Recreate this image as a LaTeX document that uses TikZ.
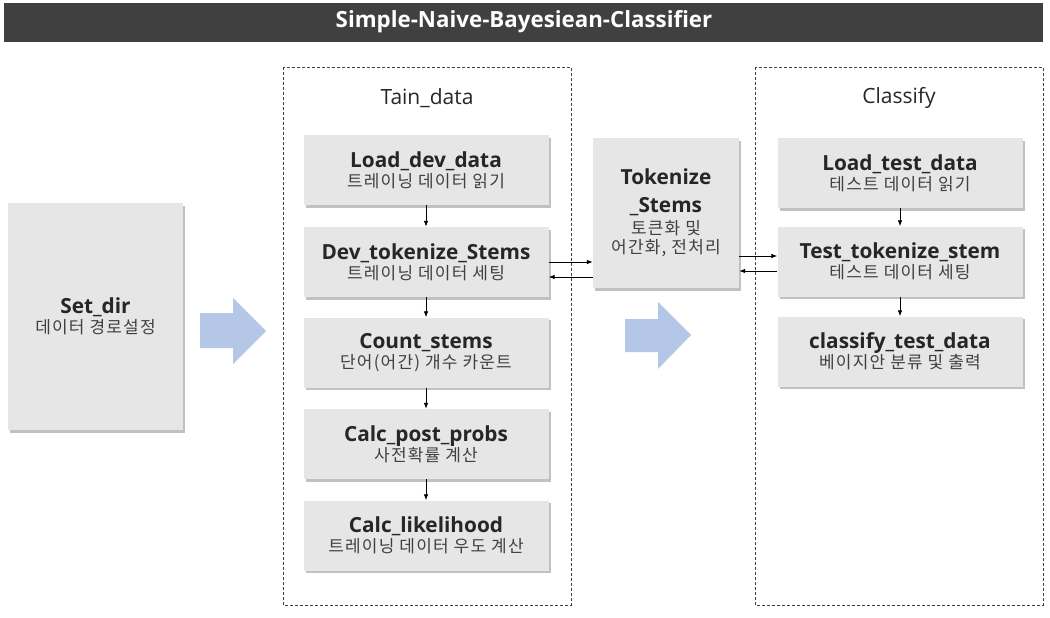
\documentclass[tikz,border=0pt]{standalone}
\usepackage{fontspec}
\setmainfont{Open Sans}
\newfontfamily\kr[LetterSpace=7]{Noto Sans CJK KR}
\usetikzlibrary{shadows,arrows.meta}
\definecolor{barcol}{HTML}{404040}
\definecolor{boxcol}{HTML}{E7E6E6}
\definecolor{bigarrowcol}{HTML}{B4C7E7}
\definecolor{txtcol}{HTML}{262626}
\definecolor{krcol}{HTML}{404040}
\newcommand{\fnbold}[1]{{\bfseries #1}}
\newcommand{\fnkr}[1]{{\kr\fontsize{17}{23}\selectfont\color{krcol}#1}}
\newcommand{\fnlabel}[2]{\fnbold{#1}\\[-3pt]\fnkr{#2}}
\tikzset{
	funcbox/.style={fill=boxcol, text=txtcol, align=center, inner sep=0pt,
		font=\fontsize{20.8}{23}\selectfont,
		minimum width=245pt, minimum height=70pt,
		drop shadow={shadow xshift=2pt,shadow yshift=-2.5pt,opacity=.35,fill=black!70}},
	frame/.style={draw=barcol, line width=0.8pt, dash pattern=on 3pt off 2pt},
	bigarrow/.style={fill=bigarrowcol, draw=none},
	flow/.style={->, line width=0.8pt, draw=black}
}
\begin{document}
\begin{tikzpicture}[x=1pt,y=-1pt,>={Latex[length=6pt,width=4.5pt]}]
		\useasboundingbox (0,0) rectangle (1050,618);
		% title bar
		\fill[barcol] (4,3) rectangle (1043,42);
		\node[text=white, font=\fontsize{22.3}{25}\selectfont\bfseries] (title) at (524,22) {Simple-Naive-Bayesiean-Classifier};
		% frames
		\draw[frame] (283,67) rectangle (571,605);
		\draw[frame] (755,67) rectangle (1043,605);
		\node[text=txtcol, font=\fontsize{21}{23}\selectfont] (train) at (427,98) {Tain\_data};
		\node[text=txtcol, font=\fontsize{21}{23}\selectfont] (classify) at (899,98) {Classify};
		% set dir
		\node[funcbox, minimum width=175pt, minimum height=227pt] (setdir) at (95.5,316.5) {\fnlabel{Set\_dir}{데이터 경로설정}};
		\fill[bigarrow] (200,313) -- (233,313) -- (233,298) -- (266,331) -- (233,364) -- (233,348) -- (200,348) -- cycle;
		% train data
		\node[funcbox] (loaddev) at (426,170) {\fnlabel{Load\_dev\_data}{트레이닝 데이터 읽기}};
		\node[funcbox] (devtok) at (426,262) {\fnlabel{Dev\_tokenize\_Stems}{트레이닝 데이터 세팅}};
		\node[funcbox] (count) at (426,352.5) {\fnlabel{Count\_stems}{단어(어간) 개수 카운트}};
		\node[funcbox] (post) at (426,444) {\fnlabel{Calc\_post\_probs}{사전확률 계산}};
		\node[funcbox] (likeli) at (426,535.5) {\fnlabel{Calc\_likelihood}{트레이닝 데이터 우도 계산}};
		\draw[flow] (loaddev) -- (devtok);
		\draw[flow] (devtok) -- (count);
		\draw[flow] (count) -- (post);
		\draw[flow] (post) -- (likeli);
		% tokenize
		\node[funcbox, minimum width=146pt, minimum height=150pt] (tok) at (666,213) {\fnbold{Tokenize}\\[5pt]\fnbold{\_Stems}\\[-1pt]\fnkr{토큰화 및}\\[-4pt]\fnkr{어간화, 전처리}};
		\fill[bigarrow] (625,319) -- (658,319) -- (658,302) -- (691,335) -- (658,369) -- (658,352) -- (625,352) -- cycle;
		\draw[flow] (devtok.east) -- (devtok.east -| tok.west);
		\draw[flow] ([yshift=-15pt]devtok.east -| tok.west) -- ([yshift=-15pt]devtok.east);
		% classify
		\node[funcbox] (loadtest) at (900,173) {\fnlabel{Load\_test\_data}{테스트 데이터 읽기}};
		\node[funcbox] (testtok) at (900,261.5) {\fnlabel{Test\_tokenize\_stem}{테스트 데이터 세팅}};
		\node[funcbox] (classdata) at (900,351.5) {\fnlabel{classify\_test\_data}{베이지안 분류 및 출력}};
		\draw[flow] (loadtest) -- (testtok);
		\draw[flow] (testtok) -- (classdata);
		\draw[flow] ([yshift=5.5pt]testtok.west -| tok.east) -- ([yshift=5.5pt]testtok.west);
		\draw[flow] ([yshift=-9.5pt]testtok.west) -- ([yshift=-9.5pt]testtok.west -| tok.east);
\end{tikzpicture}
\end{document}
